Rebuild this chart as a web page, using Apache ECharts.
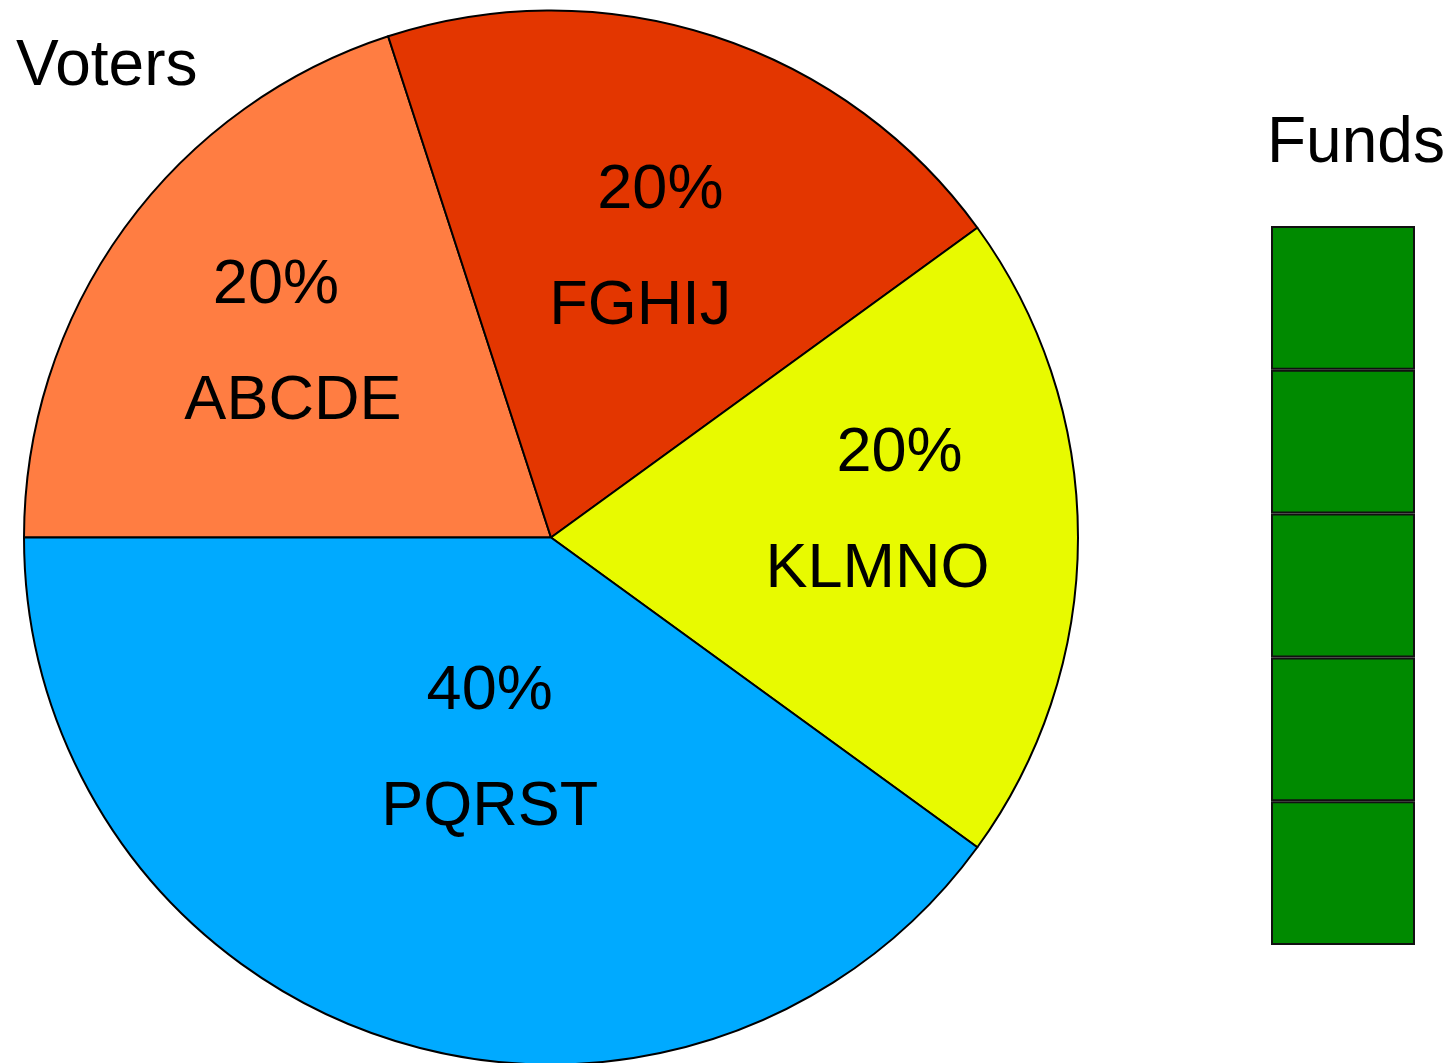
<!DOCTYPE html>
<html>
<head>
<meta charset="utf-8">
<script src="https://cdn.jsdelivr.net/npm/echarts@6/dist/echarts.min.js"></script>
<style>
  html, body { margin: 0; padding: 0; background: #fff; }
  #main { width: 1450px; height: 1063px; }
</style>
</head>
<body>
<div id="main"></div>
<script>
// 数据
const parties = ['ABCDE', 'FGHIJ', 'KLMNO', 'PQRST'];
const voterShares = [20, 20, 20, 40];
const fundSegments = [1, 1, 1, 1, 1];

// 样式
const sliceColors = ['#ff7d42', '#e33600', '#e8fa00', '#00aaff'];
const labelOffsets = [[-51, -37], [17, -35], [71, -26], [21, -41]];
const lineShifts = [-17, 20, 22, 0];
const fontFamily = 'Liberation Sans, Arial, sans-serif';

function richFor(i) {
  let s = lineShifts[i];
  let base = { fontSize: 63, lineHeight: 116, color: '#000', fontFamily: fontFamily };
  return {
    p: Object.assign({}, base, { padding: s > 0 ? [0, 0, 0, s] : [0, -s, 0, 0] }),
    n: Object.assign({}, base, { padding: s > 0 ? [0, s, 0, 0] : [0, 0, 0, -s] })
  };
}

let pieData = parties.map((name, i) => ({
  name: name,
  value: voterShares[i],
  itemStyle: { color: sliceColors[i] },
  label: { offset: labelOffsets[i], rich: richFor(i) }
}));

let fundSeries = fundSegments.map((v, i) => ({
  type: 'bar',
  name: 'fund' + i,
  stack: 'funds',
  data: [v],
  barWidth: '100%',
  silent: true,
  itemStyle: { color: '#008a00', borderColor: '#111', borderWidth: 2 }
}));

let myChart = echarts.init(document.getElementById('main'));

let option = {
  animation: false,
  title: [{
    text: 'Voters',
    left: 11,
    top: 30,
    textStyle: { fontSize: 64, fontWeight: 'normal', color: '#000', fontFamily: fontFamily }
  }, {
    text: 'Funds',
    left: 1262,
    top: 107,
    textStyle: { fontSize: 64, fontWeight: 'normal', color: '#000', fontFamily: fontFamily }
  }],
  grid: { left: 1271, top: 226, width: 144, height: 719 },
  xAxis: { type: 'category', data: ['Funds'], show: false },
  yAxis: { type: 'value', min: 0, max: 5, show: false },
  series: [{
    type: 'pie',
    center: [551, 537.5],
    radius: [0, 527],
    startAngle: 180,
    clockwise: true,
    silent: true,
    itemStyle: { borderColor: '#000', borderWidth: 2 },
    label: {
      position: 'inside',
      formatter: (p) => '{p|' + Math.round(p.percent) + '%}\n{n|' + p.name + '}'
    },
    labelLine: { show: false },
    data: pieData
  }].concat(fundSeries)
};

myChart.setOption(option);
</script>
</body>
</html>
